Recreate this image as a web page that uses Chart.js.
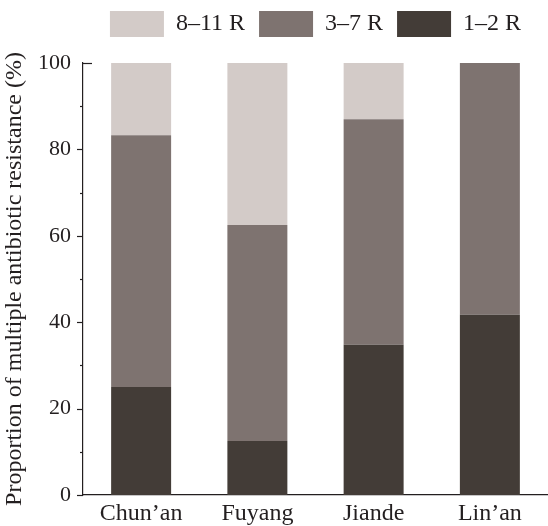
<!DOCTYPE html>
<html>
<head>
    <meta charset="UTF-8">
    <title>Multiple antibiotic resistance</title>
    <script src="https://cdn.jsdelivr.net/npm/chart.js"></script>
    <style>
        body {
            margin: 0;
            background-color: #fff;
        }
    </style>
</head>
<body>
<canvas id="marChart" width="548" height="526"></canvas>
<script>
    const sites = ['Chun\u2019an', 'Fuyang', 'Jiande', 'Lin\u2019an'];
    const r1to2 = [25, 12.5, 34.8, 41.7];
    const r3to7 = [58.3, 50, 52.2, 58.3];
    const r8to11 = [16.7, 37.5, 13, 0];
    const yTicks = [0, 20, 40, 60, 80, 100];

    const ink = '#231f20';
    const serif = "'Liberation Serif', 'DejaVu Serif', serif";

    // small ticks on the y axis, drawn from the scale itself
    const axisTicks = {
        id: 'axisTicks',
        afterDraw(chart) {
            const ctx = chart.ctx;
            const y = chart.scales.y;
            const x0 = y.right;
            ctx.save();
            ctx.strokeStyle = ink;
            ctx.lineWidth = 1.2;
            for (let v = 0; v <= 100; v += 10) {
                const py = Math.round(y.getPixelForValue(v)) + 0.5;
                let a = x0, b = x0;
                if (v === 100) b = x0 + 9;
                else if (v % 20 === 0) a = x0 - 6;
                else a = x0 - 3;
                ctx.beginPath();
                ctx.moveTo(a, py);
                ctx.lineTo(b, py);
                ctx.stroke();
            }
            ctx.restore();
        }
    };

    // extra room under the legend
    const legendGap = {
        id: 'legendGap',
        beforeInit(chart) {
            const fit = chart.legend.fit;
            chart.legend.fit = function () {
                fit.bind(chart.legend)();
                this.height += 16;
            };
        }
    };

    new Chart(document.getElementById('marChart'), {
        type: 'bar',
        data: {
            labels: sites,
            datasets: [
                { label: '1\u20132 R', data: r1to2, backgroundColor: '#433c37' },
                { label: '3\u20137 R', data: r3to7, backgroundColor: '#7e7370' },
                { label: '8\u201311 R', data: r8to11, backgroundColor: '#d3cbc8' }
            ]
        },
        options: {
            responsive: false,
            animation: false,
            devicePixelRatio: 1,
            layout: { padding: { top: -3, right: 0, left: 0, bottom: 0 } },
            datasets: {
                bar: { barPercentage: 0.516, categoryPercentage: 1 }
            },
            plugins: {
                tooltip: { enabled: false },
                legend: {
                    position: 'top',
                    fullSize: false,
                    reverse: true,
                    labels: {
                        boxWidth: 54,
                        boxHeight: 26,
                        padding: 14,
                        color: ink,
                        font: { family: serif, size: 24 }
                    }
                }
            },
            scales: {
                x: {
                    stacked: true,
                    grid: { display: false, drawTicks: false },
                    border: { display: true, color: ink, width: 1.2 },
                    ticks: {
                        color: ink,
                        padding: 4,
                        maxRotation: 0,
                        autoSkip: false,
                        font: { family: serif, size: 24 }
                    },
                    afterFit(scale) { scale.height = 31; }
                },
                y: {
                    stacked: true,
                    min: 0,
                    max: 100,
                    afterBuildTicks(scale) {
                        scale.ticks = yTicks.map(v => ({ value: v }));
                    },
                    grid: { display: false, drawTicks: false },
                    border: { display: true, color: ink, width: 1.2 },
                    ticks: {
                        color: ink,
                        padding: 12,
                        font: { family: serif, size: 22 }
                    },
                    title: {
                        display: true,
                        text: 'Proportion of multiple antibiotic resistance (%)',
                        color: ink,
                        padding: { top: 0, bottom: 6 },
                        font: { family: serif, size: 24 }
                    },
                    afterFit(scale) { scale.width = 83; }
                }
            }
        },
        plugins: [axisTicks, legendGap]
    });
</script>
</body>
</html>
